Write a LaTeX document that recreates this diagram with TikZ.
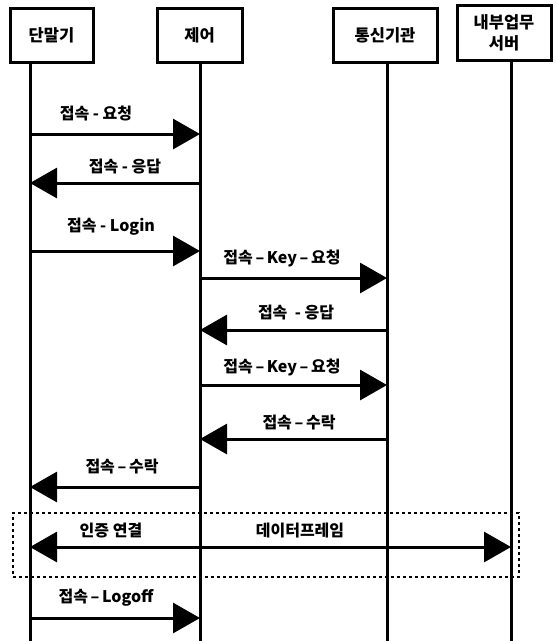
\documentclass[tikz,border=0pt]{standalone}
\usepackage{fontspec}
\setmainfont{Noto Sans CJK KR}
\usetikzlibrary{arrows.meta}
\begin{document}
\begin{tikzpicture}[x=1pt,y=-1pt,
  box/.style={draw, line width=3pt, inner sep=0pt, font=\fontsize{16.5}{21}\selectfont\bfseries, align=center},
  life/.style={line width=3pt},
  msg/.style={line width=3pt, -{Triangle[length=27pt,width=30pt]}},
  dmsg/.style={line width=3pt, {Triangle[length=27pt,width=30pt]}-{Triangle[length=27pt,width=30pt]}},
  lbl/.style={font=\fontsize{16}{18}\selectfont\bfseries, inner sep=0pt},
  frame/.style={draw, line width=2.6pt, dash pattern=on 2.6pt off 3.4pt, inner sep=0pt}]
\useasboundingbox (0,0) rectangle (556,641);
% participants
\node[box, minimum width=83pt, minimum height=54pt] (A) at (51.5,35) {단말기};
\node[box, minimum width=85pt, minimum height=54pt] (B) at (199.5,35) {제어};
\node[box, minimum width=104pt, minimum height=54pt] (C) at (385,35) {통신기관};
\node[box, minimum width=94pt, minimum height=55pt] (D) at (504,32.5) {내부업무\\서버};
% lifelines
\coordinate (At) at (30,62);  \coordinate (Ab) at (30,641);
\coordinate (Bt) at (200,62); \coordinate (Bb) at (200,641);
\coordinate (Ct) at (387,62); \coordinate (Cb) at (387,641);
\coordinate (Dt) at (511,60); \coordinate (Db) at (511,641);
\draw[life] (At) -- (Ab);
\draw[life] (Bt) -- (Bb);
\draw[life] (Ct) -- (Cb);
\draw[life] (Dt) -- (Db);
% message end points
\coordinate (a1) at (30,134);  \coordinate (b1) at (200,134);
\coordinate (a2) at (30,183);  \coordinate (b2) at (200,183);
\coordinate (a3) at (30,251);  \coordinate (b3) at (200,251);
\coordinate (b4) at (200,278); \coordinate (c4) at (387,278);
\coordinate (b5) at (200,330); \coordinate (c5) at (387,330);
\coordinate (b6) at (200,385); \coordinate (c6) at (387,385);
\coordinate (b7) at (200,439); \coordinate (c7) at (387,439);
\coordinate (a8) at (30,487);  \coordinate (b8) at (200,487);
\coordinate (a9) at (30,547);  \coordinate (d9) at (511,547);
\coordinate (a10) at (30,618); \coordinate (b10) at (200,618);
% messages
\draw[msg] (a1) -- (b1);
\node[lbl] (l1) at (96,113) {접속 - 요청};
\draw[msg] (b2) -- (a2);
\node[lbl] (l2) at (125,167) {접속 - 응답};
\draw[msg] (a3) -- (b3);
\node[lbl] (l3) at (111,227) {접속 - Login};
\draw[msg] (b4) -- (c4);
\node[lbl] (l4) at (282,258) {접속\,–\,Key\,–\,요청};
\draw[msg] (c5) -- (b5);
\node[lbl] (l5) at (296,313) {접속 \ - 응답};
\draw[msg] (b6) -- (c6);
\node[lbl] (l6) at (282,367) {접속\,–\,Key\,–\,요청};
\draw[msg] (c7) -- (b7);
\node[lbl] (l7) at (299,423) {접속\,–\,수락};
\draw[msg] (b8) -- (a8);
\node[lbl] (l8) at (122,467) {접속\,–\,수락};
% authenticated connection frame
\node[frame, minimum width=506pt, minimum height=64pt] (F) at (266,545) {};
\draw[dmsg] (a9) -- (d9);
\node[lbl] (l9a) at (111,531) {인증 연결};
\node[lbl] (l9b) at (300,531) {데이터프레임};
\draw[msg] (a10) -- (b10);
\node[lbl] (l10) at (106,598) {접속\,–\,Logoff};
\end{tikzpicture}
\end{document}
